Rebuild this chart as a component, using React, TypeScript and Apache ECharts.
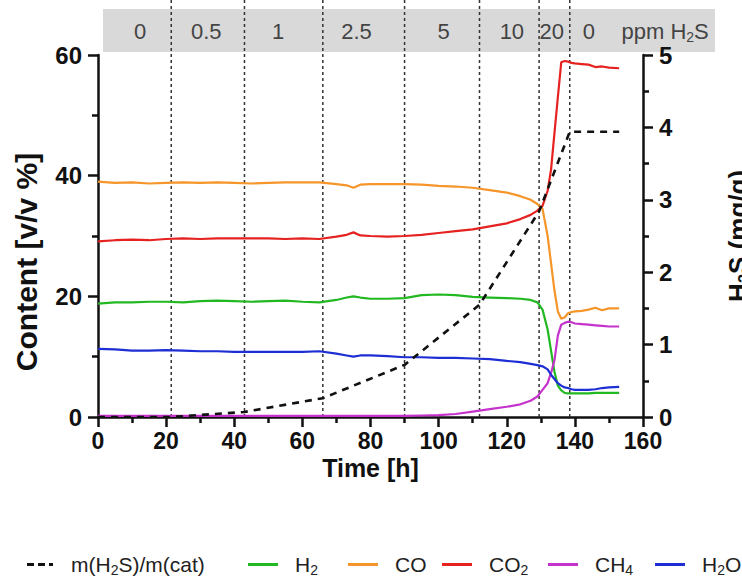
import React, { useEffect, useRef } from "react";
import * as echarts from "echarts";

// ---- data ----
const timeH = [0, 5, 10, 15, 20, 25, 30, 35, 40, 45, 50, 55, 60, 65, 70, 73, 75, 77, 80, 85, 90, 95, 100, 105, 110, 115, 120, 124, 127, 129, 130.5, 132, 133, 134, 135, 136, 137, 138, 139, 140, 142, 144, 146, 148, 150, 153];
const coVals = [39.0, 38.8, 38.9, 38.7, 38.8, 38.9, 38.8, 38.9, 38.8, 38.7, 38.8, 38.9, 38.9, 38.9, 38.6, 38.4, 38.0, 38.5, 38.6, 38.6, 38.6, 38.5, 38.3, 38.2, 38.0, 37.6, 37.2, 36.6, 36.0, 35.3, 34.5, 30.0, 25.5, 21.0, 17.5, 16.3, 16.5, 17.2, 17.4, 17.5, 17.6, 17.8, 18.1, 17.7, 18.0, 18.0];
const co2Vals = [29.1, 29.3, 29.4, 29.3, 29.5, 29.6, 29.5, 29.6, 29.6, 29.6, 29.6, 29.5, 29.6, 29.5, 29.9, 30.2, 30.6, 30.1, 30.0, 29.9, 30.0, 30.2, 30.5, 30.8, 31.1, 31.6, 32.1, 32.8, 33.5, 34.2, 35.0, 37.5, 41.0, 47.0, 53.0, 58.8, 59.0, 58.9, 58.7, 58.6, 58.5, 58.4, 58.0, 58.1, 57.9, 57.8];
const h2Vals = [18.8, 19.0, 19.0, 19.1, 19.1, 19.0, 19.2, 19.3, 19.2, 19.1, 19.2, 19.3, 19.1, 19.0, 19.4, 19.8, 20.0, 19.8, 19.6, 19.6, 19.7, 20.2, 20.3, 20.2, 19.9, 19.8, 19.7, 19.6, 19.4, 19.0, 17.8, 14.5, 11.0, 7.5, 5.2, 4.4, 4.0, 3.9, 3.9, 3.9, 3.9, 3.9, 4.0, 4.0, 4.0, 4.0];
const ch4Vals = [0.2, 0.2, 0.2, 0.2, 0.2, 0.2, 0.2, 0.2, 0.2, 0.2, 0.2, 0.2, 0.2, 0.2, 0.2, 0.2, 0.2, 0.2, 0.2, 0.2, 0.2, 0.25, 0.3, 0.5, 0.9, 1.3, 1.7, 2.1, 2.7, 3.4, 4.5, 5.6, 7.3, 9.4, 13.5, 15.3, 15.6, 15.8, 15.7, 15.5, 15.4, 15.3, 15.2, 15.1, 15.0, 15.0];
const h2oVals = [11.3, 11.2, 11.0, 11.0, 11.1, 11.0, 10.9, 10.9, 10.8, 10.8, 10.8, 10.8, 10.8, 10.9, 10.5, 10.2, 10.0, 10.2, 10.2, 10.1, 9.9, 9.9, 9.8, 9.8, 9.7, 9.6, 9.3, 9.1, 8.8, 8.6, 8.4, 7.9, 7.0, 6.3, 5.6, 5.2, 4.9, 4.8, 4.6, 4.5, 4.5, 4.5, 4.6, 4.8, 4.9, 5.0];

const h2sTime = [0, 21.5, 43, 66, 90, 112, 129.5, 138.5, 153];
const h2sVals = [0, 0, 0.07, 0.26, 0.72, 1.55, 2.84, 3.94, 3.94];

const phaseBounds = [21.5, 43, 66, 90, 112, 129.5, 138.5];
const phaseLabels = ["0", "0.5", "1", "2.5", "5", "10", "20", "0", "ppm H{s|2}S"];
const phaseLabelAt = [12.4, 31.8, 52.9, 75.9, 101.5, 121.5, 133.2, 144.1, 166.5];

const leftTicks = [0, 20, 40, 60];
const rightTicks = [0, 1, 2, 3, 4, 5];
const xTicks = [0, 20, 40, 60, 80, 100, 120, 140, 160];

const seriesNames = ["m(H2S)/m(cat)", "H2", "CO", "CO2", "CH4", "H2O"];
const seriesLabels = ["m(H{s|2}S)/m(cat)", "H{s|2}", "CO", "CO{s|2}", "CH{s|4}", "H{s|2}O"];
const seriesColors = ["#111111", "#22b822", "#f5952a", "#e52220", "#c633cc", "#1c2ed4"];

const FONT = "'Liberation Sans', Arial, Helvetica, sans-serif";

function pairs(t: number[], v: number[]) {
  return t.map((x, i) => [x, v[i]]);
}

function richify(lab: string) {
  return "{n|" + lab.replace(/\{s\|(\d)\}/g, "}{s|$1}{n|") + "}";
}

export default function App() {
  const ref = useRef<HTMLDivElement>(null);
  useEffect(() => {
    if (!ref.current) return;
    const chart = echarts.init(ref.current, undefined, { renderer: "svg" });
    const subRich = (size: number, sub: number, color: string) => ({
      n: { fontSize: size, lineHeight: size + 4, color, fontFamily: FONT },
      s: { fontSize: sub, lineHeight: sub, verticalAlign: "bottom", color, fontFamily: FONT },
      g: { width: 12 },
    });
    const legendLeft = [22, 243, 343, 437, 543, 650];
    const dashIcon = "path://M0,0h7v3h-7z M11,0h7v3h-7z M22,0h4v3h-4z";
    const valueSeries = [h2Vals, coVals, co2Vals, ch4Vals, h2oVals];
    const gridLeft = 98;
    const gridTop = 55;
    const gridW = 545;
    const gridH = 362;

    const option: any = {
      animation: false,
      backgroundColor: "#ffffff",
      textStyle: { fontFamily: FONT },
      grid: { left: gridLeft, top: gridTop, width: gridW, height: gridH, containLabel: false, outerBoundsMode: "none" },
      legend: seriesNames.map((nm, i) => ({
        data: [{ name: nm, icon: i === 0 ? dashIcon : "rect" }],
        left: legendLeft[i],
        top: 549,
        itemWidth: i === 0 ? 28 : 30,
        itemHeight: 3,
        itemStyle: { color: seriesColors[i], borderWidth: 0 },
        formatter: () => "{g|}" + richify(seriesLabels[i]),
        textStyle: { rich: subRich(21, 14, "#222") },
      })),
      xAxis: {
        type: "value",
        min: 0,
        max: 160,
        interval: 20,
        name: "Time [h]",
        nameLocation: "middle",
        nameGap: 38,
        nameMoveOverlap: false,
        nameTextStyle: { fontSize: 25, fontWeight: "bold", color: "#111", fontFamily: FONT },
        axisLine: { show: true, lineStyle: { color: "#111", width: 2.5 } },
        axisTick: { show: true, length: 10, lineStyle: { color: "#111", width: 2.5 } },
        minorTick: { show: true, splitNumber: 2, length: 6, lineStyle: { color: "#111", width: 2.5 } },
        splitLine: { show: false },
        axisLabel: {
          margin: 12,
          fontSize: 23,
          fontWeight: "bold",
          color: "#111",
          fontFamily: FONT,
          formatter: (v: number) => (xTicks.includes(v) ? String(v) : ""),
        },
      },
      yAxis: [
        {
          type: "value",
          min: 0,
          max: 60,
          interval: 20,
          position: "left",
          name: "Content [v/v %]",
          nameLocation: "middle",
          nameGap: 57,
          nameTextStyle: { fontSize: 30, fontWeight: "bold", color: "#111", fontFamily: FONT, padding: [0, 52, 0, 0] },
          axisLine: { show: true, lineStyle: { color: "#111", width: 2.5 } },
          axisTick: { show: true, length: 10, lineStyle: { color: "#111", width: 2.5 } },
          minorTick: { show: true, splitNumber: 2, length: 6, lineStyle: { color: "#111", width: 2.5 } },
          splitLine: { show: false },
          axisLabel: {
            margin: 16,
            fontSize: 24,
            fontWeight: "bold",
            color: "#111",
            fontFamily: FONT,
            formatter: (v: number) => (leftTicks.includes(v) ? String(v) : ""),
          },
        },
        {
          type: "value",
          min: 0,
          max: 5,
          interval: 1,
          position: "right",
          name: "{n|H}{s|2}{n|S (mg/g)}",
          nameLocation: "middle",
          nameGap: 80,
          nameTextStyle: {
            fontWeight: "bold",
            rich: {
              n: { fontSize: 26, fontWeight: "bold", color: "#111", fontFamily: FONT, lineHeight: 30 },
              s: { fontSize: 17, fontWeight: "bold", color: "#111", fontFamily: FONT, lineHeight: 17, verticalAlign: "bottom" },
            },
          },
          axisLine: { show: true, lineStyle: { color: "#111", width: 2.5 } },
          axisTick: { show: true, length: 10, lineStyle: { color: "#111", width: 2.5 } },
          minorTick: { show: true, splitNumber: 2, length: 6, lineStyle: { color: "#111", width: 2.5 } },
          splitLine: { show: false },
          axisLabel: {
            margin: 16,
            fontSize: 24,
            fontWeight: "bold",
            color: "#111",
            fontFamily: FONT,
            formatter: (v: number) => (rightTicks.includes(v) ? String(v) : ""),
          },
        },
      ],
      series: [
        {
          name: seriesNames[0],
          type: "line",
          yAxisIndex: 1,
          data: pairs(h2sTime, h2sVals),
          showSymbol: false,
          symbol: "none",
          z: 5,
          lineStyle: { color: seriesColors[0], width: 2.6, type: [7, 6] },
          itemStyle: { color: seriesColors[0] },
        },
        ...valueSeries.map((vals, i) => ({
          name: seriesNames[i + 1],
          type: "line",
          yAxisIndex: 0,
          data: pairs(timeH, vals),
          showSymbol: false,
          symbol: "none",
          z: 3,
          lineStyle: { color: seriesColors[i + 1], width: 2.2 },
          itemStyle: { color: seriesColors[i + 1] },
        })),
      ],
    };
    chart.setOption(option);

    const bottom = gridTop + gridH;
    const graphics: any[] = [
      {
        type: "rect",
        z: 0,
        silent: true,
        shape: { x: 103, y: 9, width: 612, height: 43 },
        style: { fill: "#d9d9d9" },
      },
    ];
    phaseBounds.forEach((b) => {
      const px = chart.convertToPixel({ xAxisIndex: 0 }, b) as number;
      graphics.push({
        type: "line",
        z: 1,
        silent: true,
        shape: { x1: px, y1: 0, x2: px, y2: bottom },
        style: { stroke: "#333", lineWidth: 1.5, lineDash: [3, 3] },
      });
    });
    phaseLabels.forEach((lab, i) => {
      const px = chart.convertToPixel({ xAxisIndex: 0 }, phaseLabelAt[i]) as number;
      graphics.push({
        type: "text",
        z: 2,
        silent: true,
        x: px,
        y: 31,
        style: {
          text: lab.includes("{") ? richify(lab) : lab,
          fontSize: 22,
          fontFamily: FONT,
          fill: "#444",
          align: "center",
          verticalAlign: "middle",
          rich: {
            n: { fontSize: 22, fontFamily: FONT, fill: "#444", lineHeight: 26 },
            s: { fontSize: 14, fontFamily: FONT, fill: "#444", lineHeight: 14, verticalAlign: "bottom" },
          },
        },
      });
    });
    chart.setOption({ graphic: graphics });

    return () => chart.dispose();
  }, []);
  return <div ref={ref} style={{ position: "absolute", left: 0, top: 0, width: 742, height: 577 }} />;
}
